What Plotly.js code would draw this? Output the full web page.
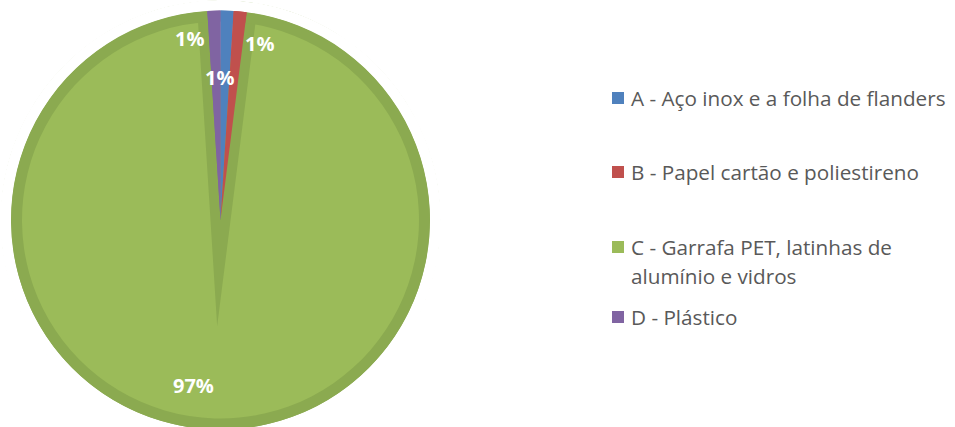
<!DOCTYPE html>
<html>
<head>
<meta charset="utf-8">
<script src="https://cdn.plot.ly/plotly-3.0.1.min.js"></script>
<style>
  html, body { margin: 0; padding: 0; overflow: hidden; background: #ffffff; }
  #chart { width: 955px; height: 500px; }
</style>
</head>
<body>
<div id="chart"></div>
<script>
// ---- data ----
const categories = [
  'A - Aço inox e a folha de flanders',
  'B - Papel cartão e poliestireno',
  'C - Garrafa PET, latinhas de<br>alumínio e vidros',
  'D - Plástico'
];
const shares = [1, 1, 97, 1];

// ---- styles ----
const sliceColors = ['#4F81BD', '#C0504D', '#9BBB59', '#8064A2'];
const bandColor = '#8BAA50';
const textGray = '#595959';
const FONT = '"Open Sans", Lato, sans-serif';

// ---- geometry (pixels) ----
const W = 955, H = 500;
const CX = 220.5, CY = 220, R = 209.5;
const STROKE = 20, RING = 11;
function dom(r) {
  return { x: [(CX - r) / W, (CX + r) / W], y: [(H - CY - r) / H, (H - CY + r) / H] };
}
function px(x, y) { return { x: x / W, y: 1 - y / H }; }

const bigIdx = shares.indexOf(Math.max(...shares));
const clear = 'rgba(0,0,0,0)';
const common = { type: 'pie', sort: false, direction: 'clockwise', rotation: 0,
  textinfo: 'none', hoverinfo: 'skip', showlegend: false, labels: categories, values: shares };

// 1: base pie, big slice with dark edge stroke
const base = Object.assign({}, common, {
  domain: dom(R),
  marker: { colors: sliceColors,
    line: { color: shares.map(() => bandColor), width: shares.map((v, i) => i === bigIdx ? STROKE : 0) } }
});
// 2: white mask outside the pie
const mask = { type: 'pie', values: [1], labels: ['mask'], textinfo: 'none', hoverinfo: 'skip',
  showlegend: false, sort: false, domain: dom(R + STROKE / 2 + 1), hole: R / (R + STROKE / 2 + 1),
  marker: { colors: ['#ffffff'], line: { width: 0 } } };
// 3: dark outer ring
const ring = Object.assign({}, common, {
  domain: dom(R), hole: (R - RING) / R,
  marker: { colors: shares.map((v, i) => i === bigIdx ? bandColor : sliceColors[i]), line: { width: 0 } }
});
// 4: small slices on top
const small = Object.assign({}, common, {
  domain: dom(R),
  marker: { colors: shares.map((v, i) => i === bigIdx ? clear : sliceColors[i]), line: { width: 0 } }
});

const total = shares.reduce((a, b) => a + b, 0);
const pctText = shares.map(v => Math.round(v / total * 100) + '%');

// label positions (px) for A, B, C, D
const labelPos = [[219, 77], [259, 44], [193.5, 385], [189, 39]];
const annotations = [];
shares.forEach((v, i) => {
  const p = px(labelPos[i][0], labelPos[i][1]);
  annotations.push({ xref: 'paper', yref: 'paper', x: p.x, y: p.y, xanchor: 'center', yanchor: 'middle',
    text: '<b>' + pctText[i] + '</b>', showarrow: false,
    font: { family: FONT, size: 20, color: '#ffffff' } });
});

// manual legend
const legendRows = [98, 172, 247, 317];
const lineGap = 28.5;
const shapes = [];
categories.forEach((c, i) => {
  const yc = legendRows[i];
  const s0 = px(612, yc - 6), s1 = px(624, yc + 6);
  shapes.push({ type: 'rect', xref: 'paper', yref: 'paper', x0: s0.x, x1: s1.x, y0: s0.y, y1: s1.y,
    fillcolor: sliceColors[i], line: { width: 0 } });
  c.split('<br>').forEach((line, k) => {
    const p = px(629, yc + k * lineGap);
    annotations.push({ xref: 'paper', yref: 'paper', x: p.x, y: p.y, xanchor: 'left', yanchor: 'middle',
      text: line, showarrow: false, font: { family: FONT, size: 20.7, color: textGray } });
  });
});

const layout = {
  width: W, height: H,
  margin: { l: 0, r: 0, t: 0, b: 0 },
  paper_bgcolor: '#ffffff',
  showlegend: false,
  annotations: annotations,
  shapes: shapes
};

Plotly.newPlot('chart', [base, mask, ring, small], layout, { staticPlot: true }).then(() => {
  document.querySelectorAll('.pielayer path').forEach(p => {
    p.style.strokeLinejoin = 'miter';
    p.style.strokeMiterlimit = '14';
    p.setAttribute('stroke-linejoin', 'miter');
    p.setAttribute('stroke-miterlimit', '14');
  });
});
</script>
</body>
</html>
